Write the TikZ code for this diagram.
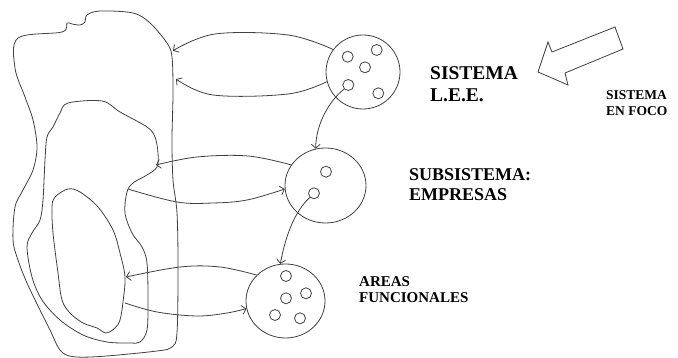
\documentclass[tikz,border=0pt]{standalone}
\usepackage{fontspec}
\setmainfont{Liberation Serif}
\usetikzlibrary{arrows.meta,shapes.geometric}
\begin{document}
\begin{tikzpicture}[x=1pt,y=1pt,
  line/.style={draw=black!75, line width=0.8pt},
  bigc/.style={ellipse, line, minimum width=#1, minimum height=74pt, inner sep=0pt},
  smallc/.style={circle, line, minimum size=11pt, inner sep=0pt},
  conn/.style={line, -{Straight Barb[length=4pt,width=9pt]}},
  blob/.style={line, smooth cycle, tension=0.55},
  lbl/.style={anchor=base west, inner sep=0pt, font=\bfseries, align=left, text=black}]
\useasboundingbox (0,0) rectangle (678,358);

% blobs
\draw[blob] plot coordinates {(18,320) (62,326) (67,335) (72,334) (80,333) (85,336) (87,343) (100,347) (133,345) (150,335) (167,315) (172,301) (173,265) (172,218) (173,178) (177,145) (178,91) (177,25) (172,11) (157,7) (100,1.5) (72,1.5) (60,8) (50,28) (40,48) (27,75) (18,98) (13,118) (15,151) (23,168) (33,188) (37,211) (33,238) (25,261) (15,290)};
\draw[blob] plot coordinates {(68,255) (102,257) (120,246) (147,231) (155,221) (158,205) (157,191) (147,183) (133,175) (127,166) (125,145) (132,125) (142,111) (147,95) (148,58) (147,28) (140,16) (130,15) (107,16) (83,23) (60,38) (42,58) (32,81) (27,111) (32,125) (40,138) (43,158) (45,198) (47,221) (53,231) (60,245)};
\draw[blob] plot coordinates {(55,161) (68,169) (80,166) (98,151) (113,128) (120,105) (125,81) (123,56) (120,38) (115,30) (106,25) (97,30) (83,35) (70,45) (62,58) (58,85) (53,125) (52,151)};

% blob end points
\coordinate (a1) at (173,307.3);
\coordinate (a2) at (176,279);
\coordinate (a3) at (156,193);
\coordinate (c4) at (128,169);
\coordinate (a5) at (126,81);
\coordinate (c6) at (125,55);

% circles
\node[bigc=74pt] (T) at (363,286) {};
\node[bigc=81pt, minimum height=75pt] (M) at (325.5,172.5) {};
\node[bigc=79pt] (B) at (285.5,57) {};

\node[smallc] (t1) at (347.7,301.3) {};
\node[smallc] (t2) at (376.7,308) {};
\node[smallc] (t3) at (365,290.7) {};
\node[smallc] (t4) at (348.3,273) {};
\node[smallc] (t5) at (378.3,264.7) {};
\node[smallc] (m1) at (326,186.3) {};
\node[smallc] (m2) at (314,164.7) {};
\node[smallc] (b1) at (286,82) {};
\node[smallc] (b2) at (286,59.7) {};
\node[smallc] (b3) at (306,64.7) {};
\node[smallc] (b4) at (275,43) {};
\node[smallc] (b5) at (300,39.7) {};

% connectors
\draw[conn] plot[smooth, tension=0.6] coordinates {(T.143) (288,323) (215,324) (a1)};
\draw[conn] plot[smooth, tension=0.6] coordinates {(T.195) (288,264) (213,263) (a2)};
\draw[conn] (t4.225) .. controls (330,258) and (316,235) .. (M.105);
\draw[conn] plot[smooth, tension=0.6] coordinates {(M.149) (248,202) (197,201) (a3)};
\draw[conn] plot[smooth, tension=0.6] coordinates {(c4) (177,156) (213,155) (247,158) (M.185)};
\draw[conn] (m2.225) .. controls (296,148) and (286,125) .. (B.98);
\draw[conn] plot[smooth, tension=0.6] coordinates {(B.138) (220,91) (180,91) (a5)};
\draw[conn] plot[smooth, tension=0.6] coordinates {(c6) (157,46) (197,42) (227,45) (B.191)};

% block arrow
\draw[line] (538,286) -- (548,316) -- (552,306) -- (615,331) -- (623,309) -- (565,285) -- (568,273) -- cycle;

% labels (base = baseline of the last line)
\node[lbl, font=\bfseries\fontsize{19.5}{22}\selectfont] (l1) at (430,256) {SISTEMA\\L.E.E.};
\node[lbl, font=\bfseries\fontsize{13.5}{16}\selectfont] (l2) at (606,242) {SISTEMA\\EN FOCO};
\node[lbl, font=\bfseries\fontsize{18}{20}\selectfont] (l3) at (409,157) {SUBSISTEMA:\\EMPRESAS};
\node[lbl, font=\bfseries\fontsize{15}{16}\selectfont] (l4) at (359,55) {AREAS\\FUNCIONALES};
\end{tikzpicture}
\end{document}
